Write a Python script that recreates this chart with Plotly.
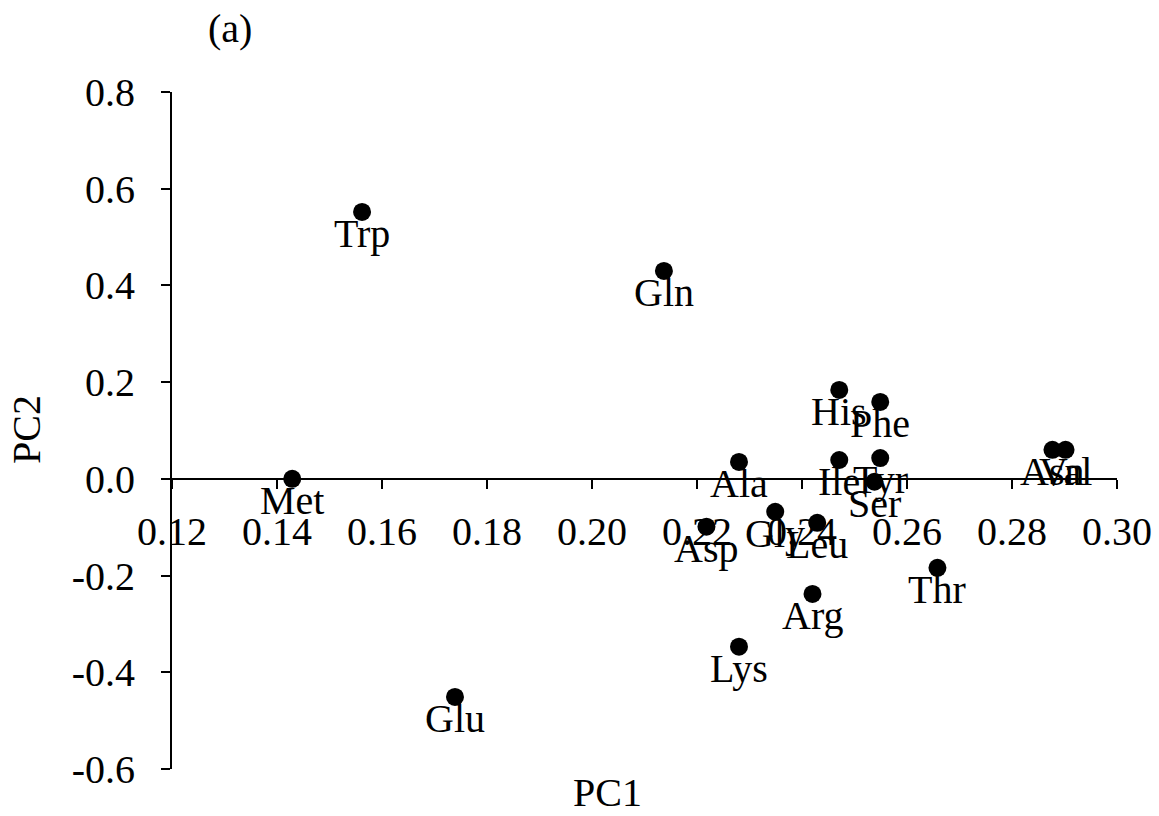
import plotly.graph_objects as go

names = ["Trp", "Gln", "Met", "Glu", "His", "Phe", "Ala", "Ile", "Tyr", "Ser",
         "Gly", "Leu", "Asp", "Arg", "Thr", "Lys", "Asn", "Val"]
pc1 = [0.1562, 0.2137, 0.1429, 0.1739, 0.2471, 0.2549, 0.2280, 0.2471, 0.2549, 0.2538,
       0.2349, 0.2429, 0.2218, 0.2420, 0.2658, 0.2280, 0.2877, 0.2902]
pc2 = [0.552, 0.430, 0.000, -0.451, 0.184, 0.159, 0.035, 0.039, 0.043, -0.006,
       -0.068, -0.091, -0.099, -0.238, -0.184, -0.347, 0.060, 0.060]

x_ticks = [0.12, 0.14, 0.16, 0.18, 0.20, 0.22, 0.24, 0.26, 0.28, 0.30]
y_ticks = [-0.6, -0.4, -0.2, 0.0, 0.2, 0.4, 0.6, 0.8]

FONT = "Liberation Serif, Times New Roman, serif"
W, H = 1159, 816
pl, pr, pt, pb = 172, 42, 92, 47
pw, ph = W - pl - pr, H - pt - pb


def px(xp):
    return (xp - pl) / pw


def py(yp):
    return (H - pb - yp) / ph


fig = go.Figure()
fig.add_trace(go.Scatter(
    x=pc1, y=pc2, mode="markers",
    marker=dict(color="black", size=18),
    cliponaxis=False, showlegend=False, hoverinfo="text", text=names,
))

annotations = []
for n, xv, yv in zip(names, pc1, pc2):
    annotations.append(dict(
        text=n, x=xv, y=yv, xref="x", yref="y",
        xanchor="center", yanchor="top", yshift=2, borderpad=0,
        showarrow=False, font=dict(family=FONT, size=40, color="black"),
    ))

annotations += [
    dict(text="PC1", x=px(607), y=py(792), xref="paper", yref="paper",
         xanchor="center", yanchor="middle",
         showarrow=False, font=dict(family=FONT, size=40, color="black")),
    dict(text="PC2", textangle=-90, x=px(27), y=py(430), xref="paper", yref="paper",
         xanchor="center", yanchor="middle",
         showarrow=False, font=dict(family=FONT, size=40, color="black")),
    dict(text="(a)", x=px(230), y=py(28), xref="paper", yref="paper",
         xanchor="center", yanchor="middle",
         showarrow=False, font=dict(family=FONT, size=40, color="black")),
]

y_min, y_max = -0.6, 0.8
fig.update_layout(
    width=W, height=H,
    margin=dict(l=pl, r=pr, t=pt, b=pb, autoexpand=False),
    plot_bgcolor="white", paper_bgcolor="white",
    font=dict(family=FONT, color="black"),
    xaxis=dict(
        range=[0.12, 0.30], tickvals=x_ticks,
        ticktext=[f"{v:.2f}" for v in x_ticks],
        showgrid=False, zeroline=False,
        showline=True, linecolor="black", linewidth=2,
        ticks="outside", ticklen=9, tickwidth=2, tickcolor="black",
        tickfont=dict(family=FONT, size=40),
        ticklabelstandoff=8,
        anchor="free", position=(0 - y_min) / (y_max - y_min),
    ),
    yaxis=dict(
        range=[y_min, y_max], tickvals=y_ticks,
        ticktext=[f"{v:.1f}" for v in y_ticks],
        showgrid=False, zeroline=False,
        showline=True, linecolor="black", linewidth=2,
        ticks="outside", ticklen=9, tickwidth=2, tickcolor="black",
        tickfont=dict(family=FONT, size=40),
        ticklabelstandoff=18,
    ),
    annotations=annotations,
)

fig.write_html("out.html", config={"displayModeBar": False},
               post_script="document.body.style.margin='0px';")
